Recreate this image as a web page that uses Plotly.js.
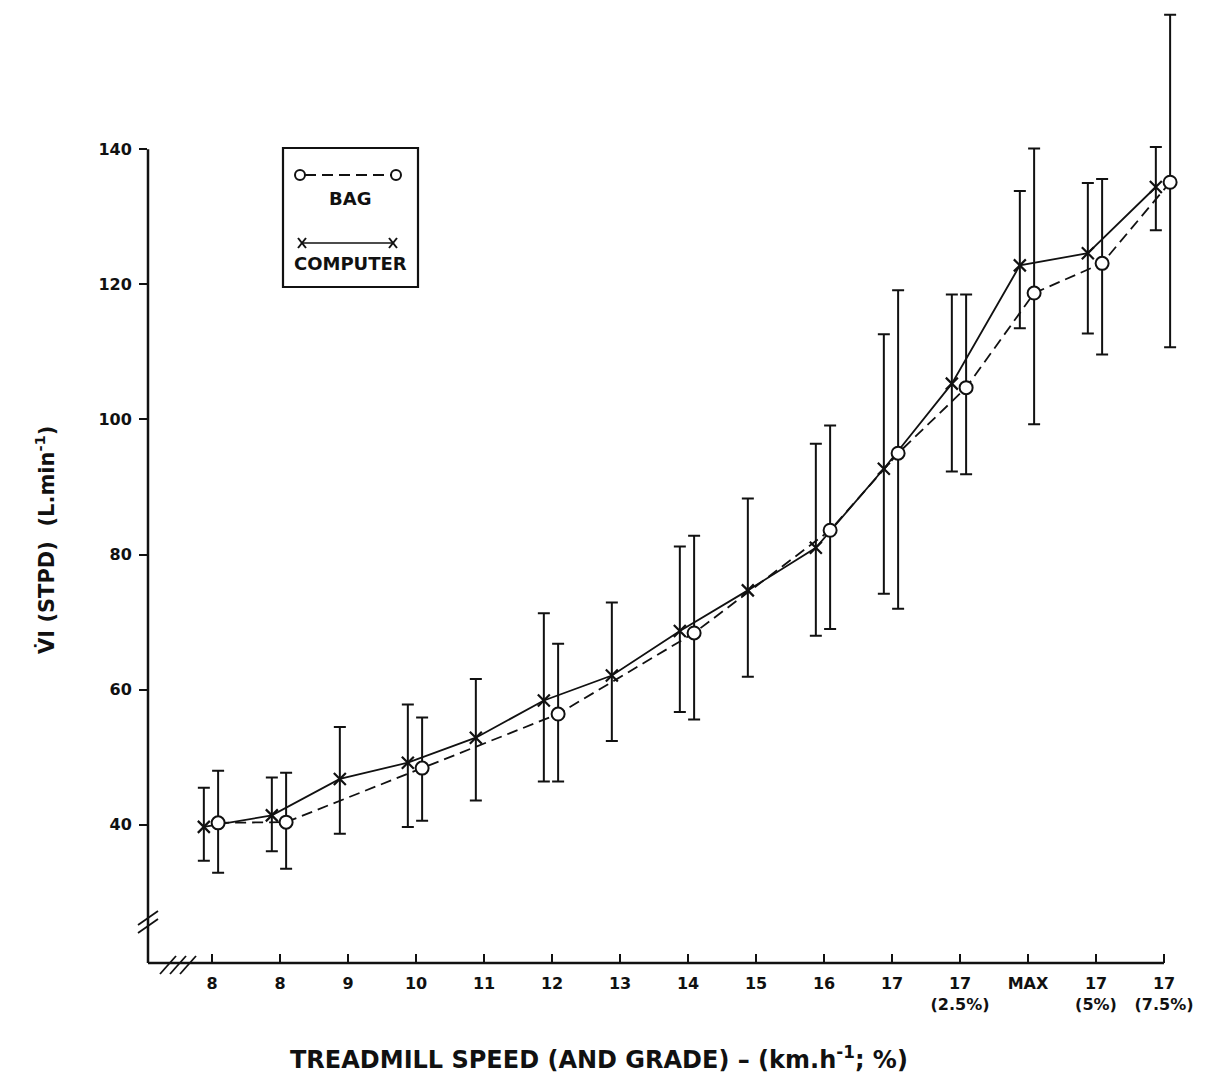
<!DOCTYPE html>
<html>
<head>
<meta charset="utf-8">
<script src="https://cdn.plot.ly/plotly-3.0.1.min.js"></script>
<style>html,body{margin:0;padding:0;background:#fff;}#chart{width:1207px;height:1079px;}</style>
</head>
<body>
<div id="chart"></div>
<script>
// ---- data ----
const categories = ['8','8','9','10','11','12','13','14','15','16','17','17<br>(2.5%)','MAX','17<br>(5%)','17<br>(7.5%)'];

const computerMean  = [39.7, 41.4, 46.8, 49.2, 52.9, 58.4, 62.1, 68.7, 74.7, 81.0, 92.7, 105.3, 122.8, 124.6, 134.4];
const computerUpper = [45.5, 47.0, 54.5, 57.8, 61.6, 71.3, 72.9, 81.2, 88.3, 96.4, 112.6, 118.5, 133.8, 135.0, 140.3];
const computerLower = [34.7, 36.1, 38.7, 39.7, 43.6, 46.4, 52.4, 56.7, 61.9, 68.0, 74.2, 92.3, 113.5, 112.7, 128.0];

const bagMean  = [40.3, 40.4, null, 48.4, null, 56.4, null, 68.4, null, 83.6, 95.0, 104.7, 118.7, 123.1, 135.1];
const bagUpper = [48.0, 47.7, null, 55.9, null, 66.8, null, 82.8, null, 99.1, 119.1, 118.5, 140.1, 135.6, 159.9];
const bagLower = [32.9, 33.5, null, 40.6, null, 46.4, null, 55.6, null, 69.0, 72.0, 91.9, 99.3, 109.6, 110.7];

const yTicks = [40, 60, 80, 100, 120, 140];

// ---- layout geometry ----
const W = 1207, H = 1079;
const M = {l: 148, r: 27, t: 10, b: 116};
const PW = W - M.l - M.r, PH = H - M.t - M.b;
const px = x => (x - M.l) / PW;            // pixel -> paper (x)
const py = y => (H - M.b - y) / PH;         // pixel -> paper (y)

const idx = categories.map((_, i) => i);
const plusOf  = (m, u) => m.map((v, i) => v == null ? null : u[i] - v);
const minusOf = (m, l) => m.map((v, i) => v == null ? null : v - l[i]);

const black = '#111';

const computer = {
  type: 'scatter', mode: 'lines+markers', name: 'COMPUTER',
  x: idx.map(i => i - 0.12), y: computerMean,
  line: {color: black, width: 1.8},
  marker: {symbol: 'x-thin', size: 12, color: black, line: {color: black, width: 2.2}},
  error_y: {type: 'data', symmetric: false,
    array: plusOf(computerMean, computerUpper), arrayminus: minusOf(computerMean, computerLower),
    color: black, thickness: 2, width: 6},
  cliponaxis: false
};
const bag = {
  type: 'scatter', mode: 'lines+markers', name: 'BAG',
  x: idx.map(i => i + 0.09), y: bagMean, connectgaps: true,
  line: {color: black, width: 1.8, dash: '11px,6px'},
  marker: {symbol: 'circle', size: 13, color: '#fff', line: {color: black, width: 2}},
  error_y: {type: 'data', symmetric: false,
    array: plusOf(bagMean, bagUpper), arrayminus: minusOf(bagMean, bagLower),
    color: black, thickness: 2, width: 6},
  cliponaxis: false
};

const xRange = [(M.l - 212) / 68, (W - M.r - 212) / 68];
const yLow = 40 - (963 - 825) / 6.75;
const yRange = [yLow, 140 + (149 - M.t) / 6.75];

const L = (x0, y0, x1, y1, w, dash) => ({type: 'line', xref: 'paper', yref: 'paper',
  x0: px(x0), y0: py(y0), x1: px(x1), y1: py(y1), line: {color: black, width: w || 2, dash: dash || 'solid'}});

const shapes = [
  // y axis line (ends at 140)
  {type: 'line', xref: 'paper', yref: 'y', x0: 0, x1: 0, y0: yLow, y1: 140, line: {color: black, width: 2.5}},
  // x axis line (ends at last category)
  {type: 'line', xref: 'x', yref: 'paper', x0: xRange[0], x1: categories.length - 1, y0: 0, y1: 0, line: {color: black, width: 2.5}},
  {type: 'line', xref: 'x', yref: 'paper', x0: categories.length - 1, x1: categories.length - 1, y0: 0, y1: py(956), line: {color: black, width: 2}},
  // axis breaks
  L(138, 925, 158, 911, 1.8), L(138, 933, 158, 919, 1.8),
  L(160, 974, 176, 956, 1.8), L(170, 974, 186, 956, 1.8), L(180, 974, 196, 956, 1.8),
  // legend box
  {type: 'rect', xref: 'paper', yref: 'paper', x0: px(283), x1: px(418), y0: py(287), y1: py(148),
   line: {color: black, width: 2.2}, fillcolor: 'rgba(0,0,0,0)'},
  // BAG sample
  L(305, 175, 391, 175, 1.8, '11px,6px'),
  {type: 'circle', xref: 'paper', yref: 'paper', x0: px(295), x1: px(305), y0: py(180), y1: py(170), line: {color: black, width: 2}, fillcolor: '#fff'},
  {type: 'circle', xref: 'paper', yref: 'paper', x0: px(391), x1: px(401), y0: py(180), y1: py(170), line: {color: black, width: 2}, fillcolor: '#fff'},
  // COMPUTER sample
  L(302, 243, 393, 243, 1.6),
  L(298, 238, 306, 248, 2), L(298, 248, 306, 238, 2),
  L(389, 238, 397, 248, 2), L(389, 248, 397, 238, 2)
];

const titleFont = {family: 'DejaVu Sans', size: 21, color: black, weight: 'bold'};
const legendFont = {family: 'DejaVu Sans', size: 18, color: black, weight: 'bold'};
const annotations = [
  {xref: 'paper', yref: 'paper', x: px(350), y: py(198), text: 'BAG', showarrow: false,
   font: legendFont, xanchor: 'center', yanchor: 'middle'},
  {xref: 'paper', yref: 'paper', x: px(350), y: py(263), text: 'COMPUTER', showarrow: false,
   font: legendFont, xanchor: 'center', yanchor: 'middle'},
  {xref: 'paper', yref: 'paper', x: px(45), y: py(540), textangle: -90, showarrow: false,
   text: 'V\u0307I (STPD)  (L.min<sup>-1</sup>)', font: titleFont, xanchor: 'center', yanchor: 'middle'},
  {xref: 'paper', yref: 'paper', x: px(599), y: py(1058), showarrow: false,
   text: 'TREADMILL SPEED (AND GRADE) \u2013 (km.h<sup>-1</sup>; %)',
   font: {family: 'DejaVu Sans', size: 24, color: black, weight: 'bold'}, xanchor: 'center', yanchor: 'middle'}
];

const tickFont = {family: 'DejaVu Sans', size: 16, color: black, weight: 'bold'};
const layout = {
  width: W, height: H, margin: M,
  paper_bgcolor: '#fff', plot_bgcolor: '#fff',
  showlegend: false,
  xaxis: {range: xRange, tickmode: 'array', tickvals: idx, ticktext: categories,
    showgrid: false, zeroline: false, showline: false,
    ticks: 'inside', ticklen: 9, tickwidth: 2, tickcolor: black, tickfont: tickFont, ticklabelstandoff: 9},
  yaxis: {range: yRange, tickmode: 'array', tickvals: yTicks, ticktext: yTicks.map(String),
    showgrid: false, zeroline: false, showline: false,
    ticks: 'outside', ticklen: 8, tickwidth: 2, tickcolor: black, tickfont: tickFont, ticklabelstandoff: 4},
  shapes: shapes,
  annotations: annotations
};

Plotly.newPlot('chart', [computer, bag], layout, {staticPlot: true, displayModeBar: false});
</script>
</body>
</html>
